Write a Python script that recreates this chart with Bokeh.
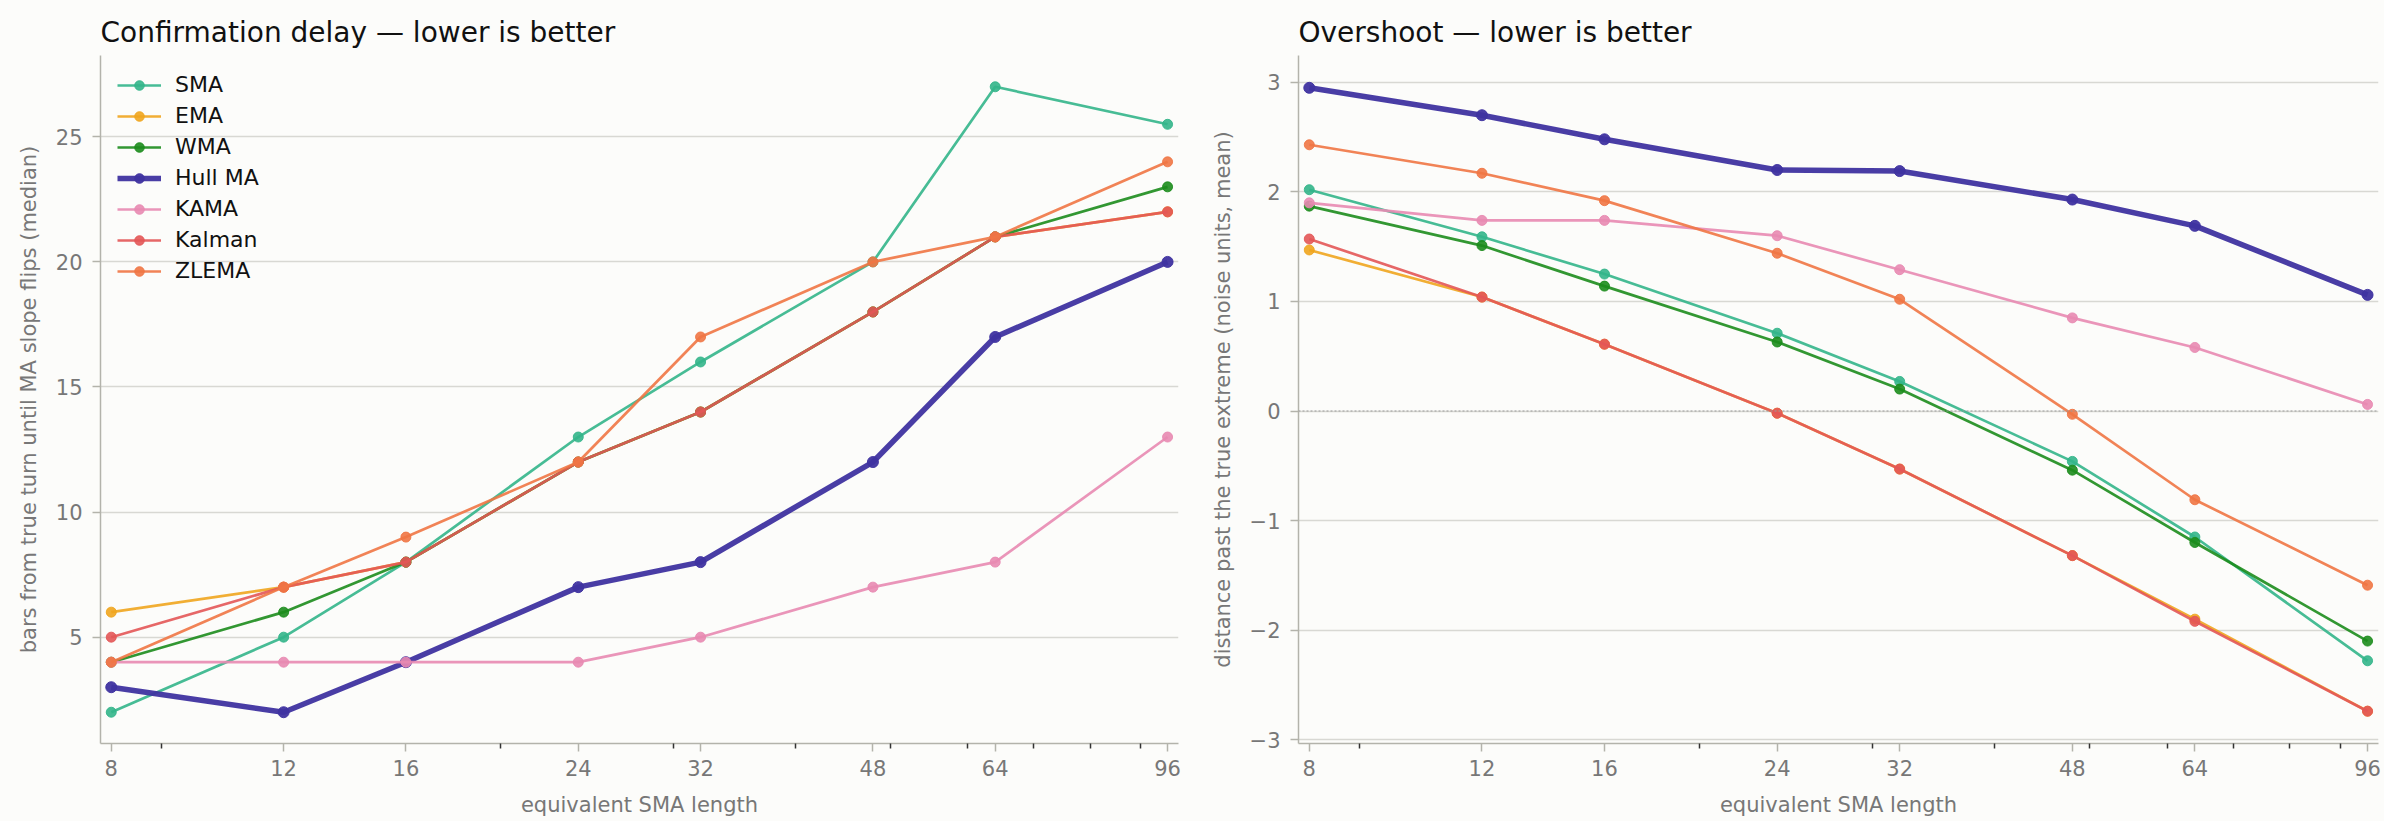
from bokeh.plotting import figure
from bokeh.models import Range1d, FixedTicker, Span
from bokeh.layouts import row
from bokeh.embed import file_html
from bokeh.resources import INLINE

# equivalent SMA lengths (log x axis)
lengths = [8, 12, 16, 24, 32, 48, 64, 96]
length_labels = ["8", "12", "16", "24", "32", "48", "64", "96"]
minor_lengths = [9, 20, 30, 40, 50, 60, 70, 80, 90]

methods = ["SMA", "EMA", "WMA", "Hull MA", "KAMA", "Kalman", "ZLEMA"]
colors = ["#33b58a", "#f0a51e", "#1c8c1c", "#3f33a0", "#e889b1", "#e35656", "#ef7544"]

# confirmation delay (bars, median)
delay_sma = [2, 5, 8, 13, 16, 20, 27, 25.5]
delay_ema = [6, 7, 8, 12, 14, 18, 21, 22]
delay_wma = [4, 6, 8, 12, 14, 18, 21, 23]
delay_hull = [3, 2, 4, 7, 8, 12, 17, 20]
delay_kama = [4, 4, 4, 4, 5, 7, 8, 13]
delay_kalman = [5, 7, 8, 12, 14, 18, 21, 22]
delay_zlema = [4, 7, 9, 12, 17, 20, 21, 24]

# overshoot (noise units, mean)
overshoot_sma = [2.02, 1.59, 1.25, 0.71, 0.27, -0.46, -1.15, -2.28]
overshoot_ema = [1.47, 1.04, 0.61, -0.02, -0.53, -1.32, -1.90, -2.74]
overshoot_wma = [1.87, 1.51, 1.14, 0.63, 0.20, -0.54, -1.20, -2.10]
overshoot_hull = [2.95, 2.70, 2.48, 2.20, 2.19, 1.93, 1.69, 1.06]
overshoot_kama = [1.90, 1.74, 1.74, 1.60, 1.29, 0.85, 0.58, 0.06]
overshoot_kalman = [1.57, 1.04, 0.61, -0.02, -0.53, -1.32, -1.92, -2.74]
overshoot_zlema = [2.43, 2.17, 1.92, 1.44, 1.02, -0.03, -0.81, -1.59]

delay_ticks = [5, 10, 15, 20, 25]
delay_tick_labels = ["5", "10", "15", "20", "25"]
overshoot_ticks = [-3, -2, -1, 0, 1, 2, 3]
overshoot_tick_labels = ["\u22123", "\u22122", "\u22121", "0", "1", "2", "3"]

BG = "#fcfcfa"
FONT = "DejaVu Sans"
GREY = "#777777"
SPINE = "#b3b3ab"


def make_panel(title, ylabel, series, y_lo, y_hi, yticks, ytick_labels,
               border_left, border_right, legend=False):
    p = figure(
        title=title,
        width=1192, height=821,
        x_axis_type="log",
        x_range=Range1d(7.8, 98.5),
        y_range=Range1d(y_lo, y_hi),
        x_axis_label="equivalent SMA length",
        y_axis_label=ylabel,
        min_border_left=border_left, min_border_right=border_right,
        min_border_top=55, min_border_bottom=78,
        output_backend="svg", toolbar_location=None,
    )
    p.background_fill_color = BG
    p.border_fill_color = BG
    p.outline_line_color = None

    p.title.text_font = FONT
    p.title.text_font_size = "28px"
    p.title.text_font_style = "normal"
    p.title.text_color = "#111111"
    p.title.offset = 0
    p.title.standoff = 14

    p.xgrid.visible = False
    p.ygrid.grid_line_color = "#d8d8d3"
    p.ygrid.grid_line_width = 1.5

    p.xaxis.ticker = FixedTicker(ticks=lengths, minor_ticks=minor_lengths)
    p.xaxis.major_label_overrides = dict(zip(lengths, length_labels))
    p.yaxis.ticker = FixedTicker(ticks=yticks)
    p.yaxis.major_label_overrides = dict(zip(yticks, ytick_labels))

    for ax in (p.xaxis, p.yaxis):
        ax.axis_line_color = SPINE
        ax.axis_line_width = 1.5
        ax.major_tick_line_color = SPINE
        ax.major_tick_line_width = 1.5
        ax.major_tick_out = 8
        ax.major_tick_in = 0
        ax.major_label_text_font = FONT
        ax.major_label_text_font_size = "21px"
        ax.major_label_text_color = GREY
        ax.axis_label_text_font = FONT
        ax.axis_label_text_font_size = "21px"
        ax.axis_label_text_font_style = "normal"
        ax.axis_label_text_color = GREY
    p.xaxis.minor_tick_line_color = "#333333"
    p.xaxis.minor_tick_line_width = 1.5
    p.xaxis.minor_tick_out = 5
    p.xaxis.minor_tick_in = 0
    p.yaxis.minor_tick_line_color = None
    p.xaxis.major_label_standoff = 8
    p.xaxis.axis_label_standoff = 14
    p.yaxis.major_label_standoff = 10
    p.yaxis.axis_label_standoff = 12

    for name, color, ys in zip(methods, colors, series):
        hull = name == "Hull MA"
        width = 5.5 if hull else 2.7
        size = 11 if hull else 10
        alpha = 0.95 if hull else 0.9
        kw = dict(legend_label=name) if legend else {}
        p.line(lengths, ys, line_color=color, line_width=width, line_alpha=alpha, **kw)
        p.scatter(lengths, ys, size=size, fill_color=color, line_color=color,
                  fill_alpha=alpha, line_alpha=alpha, **kw)

    if legend:
        p.legend.location = "top_left"
        p.legend.border_line_color = None
        p.legend.background_fill_alpha = 0
        p.legend.label_text_font = FONT
        p.legend.label_text_font_size = "22px"
        p.legend.label_text_color = "#111111"
        p.legend.glyph_width = 44
        p.legend.glyph_height = 24
        p.legend.label_height = 24
        p.legend.spacing = 6
        p.legend.margin = 17
        p.legend.padding = 10
        p.legend.label_standoff = 14
    return p


left = make_panel(
    "Confirmation delay \u2014 lower is better",
    "bars from true turn until MA slope flips (median)",
    [delay_sma, delay_ema, delay_wma, delay_hull, delay_kama, delay_kalman, delay_zlema],
    0.75, 28.25, delay_ticks, delay_tick_labels, 100, 14, legend=True,
)

right = make_panel(
    "Overshoot \u2014 lower is better",
    "distance past the true extreme (noise units, mean)",
    [overshoot_sma, overshoot_ema, overshoot_wma, overshoot_hull, overshoot_kama,
     overshoot_kalman, overshoot_zlema],
    -3.035, 3.245, overshoot_ticks, overshoot_tick_labels, 106, 6,
)
right.add_layout(Span(location=0, dimension="width", line_color="#9a9a9a",
                      line_width=1.2, line_dash="2 2"))

layout = row(left, right)
layout.background = BG

open("out.html", "w").write(file_html(layout, INLINE))
